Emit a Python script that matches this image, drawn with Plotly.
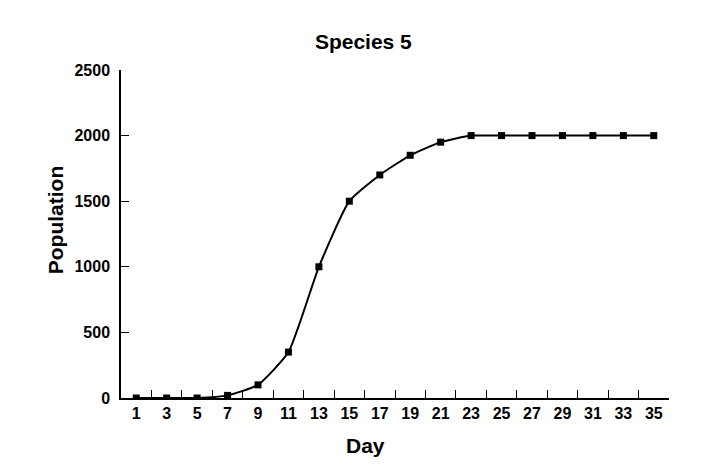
import plotly.graph_objects as go

days = [str(d) for d in range(1, 36, 2)]
population = [0, 0, 0, 20, 100, 350, 1000, 1500, 1700, 1850, 1950, 2000, 2000, 2000, 2000, 2000, 2000, 2000]
y_ticks = [0, 500, 1000, 1500, 2000, 2500]

FONT = "Liberation Sans, Arial"

fig = go.Figure()
fig.add_trace(go.Scatter(
    x=days, y=population, mode="lines+markers",
    line=dict(color="black", width=2, shape="spline", smoothing=0.5),
    marker=dict(symbol="square", size=7, color="black"),
    showlegend=False,
))

fig.update_layout(
    width=715, height=474,
    paper_bgcolor="white", plot_bgcolor="white",
    margin=dict(l=113, r=54, t=62, b=84),
    title=dict(text="<b>Species 5</b>", x=0.497, xanchor="center", xref="container",
               y=0.93, yanchor="middle", yref="container",
               font=dict(family=FONT, size=21, color="black")),
    font=dict(family=FONT, color="black"),
    annotations=[
        dict(text="<b>Day</b>", xref="paper", yref="paper", x=(364 - 120) / 548, y=-0.145,
             xanchor="center", yanchor="middle", showarrow=False,
             font=dict(family=FONT, size=21, color="black")),
        dict(text="<b>Population</b>", xref="paper", yref="paper", x=-0.12, y=(398 - 220) / 328,
             xanchor="center", yanchor="middle", textangle=-90, showarrow=False,
             font=dict(family=FONT, size=21, color="black")),
    ],
)
fig.update_xaxes(
    type="category", tickson="boundaries", range=[-0.5, 17.5],
    showline=True, linecolor="black", linewidth=1.5,
    ticks="inside", ticklen=8, tickcolor="black", tickwidth=1.2,
    showgrid=False, zeroline=False,
    tickvals=days, ticktext=["<b>%s</b>" % d for d in days],
    tickfont=dict(family=FONT, size=16, color="black"),
)
fig.update_yaxes(
    range=[0, 2500], tickvals=y_ticks, ticktext=["<b>%d</b>" % v for v in y_ticks],
    showline=True, linecolor="black", linewidth=1.5,
    ticks="inside", ticklen=8, tickcolor="black", tickwidth=1.2,
    showgrid=False, zeroline=False,
    tickfont=dict(family=FONT, size=16, color="black"),
    ticklabelstandoff=6,
)

fig.write_html("out.html")
